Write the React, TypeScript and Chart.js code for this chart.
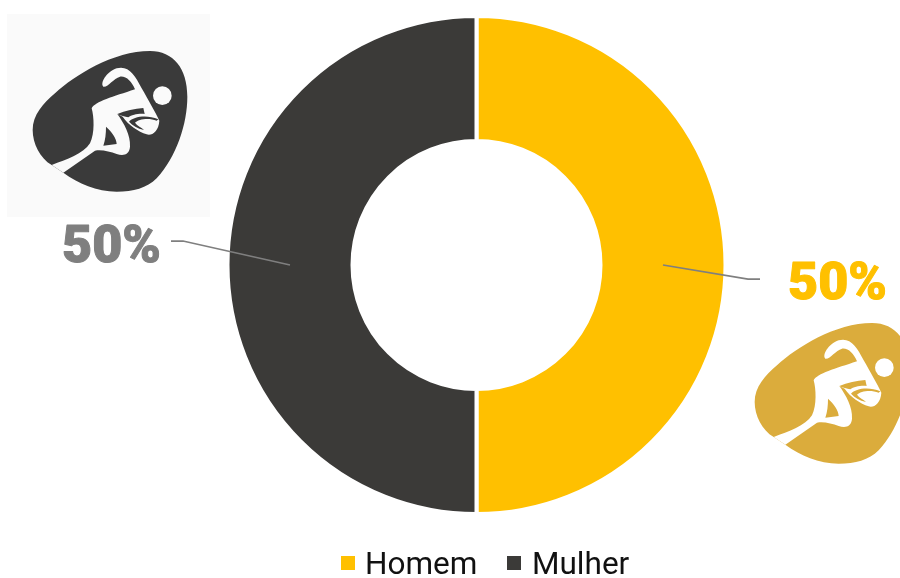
import React, { useEffect, useRef } from "react";
import { Chart, registerables } from "chart.js";

Chart.register(...registerables);

const categories = ["Homem", "Mulher"];
const shareValues = [50, 50];
const sliceColors = ["#FFC000", "#3B3A38"];
const labelColors = ["#FFC000", "#7F7F7F"];

const BLOB = "M155 495C120 475 98 430 98 390C98 345 130 310 165 280C225 225 340 153 450 153C520 153 562 205 562 290C562 370 530 470 470 535C440 565 400 575 350 575C290 575 235 550 190 518Z";
const BODY = "M155 495C200 478 250 462 270 430C285 400 282 350 275 325C285 305 340 290 405 268C395 245 380 228 360 230C340 235 325 262 310 260C300 250 318 216 350 205C385 195 405 225 425 265C445 300 465 335 478 362C476 395 455 408 440 403C415 395 385 375 368 350L352 342C372 370 392 405 390 440C388 465 370 468 350 462C330 455 305 448 285 452L190 518Z";
const TRIANGLE = "M318 380C335 395 350 415 350 432L310 437C316 420 318 400 318 380Z";
const NOTCH = "M352 342C375 332 405 326 430 324L434 342C415 340 395 345 385 352C375 350 362 347 352 342Z";
const BALL = "M387 365C400 350 440 343 475 358L470 362C445 352 415 358 405 368C412 378 425 382 432 390C412 385 398 377 387 365Z";

function drawIcon(ctx: CanvasRenderingContext2D, dx: number, dy: number, fill: string, paper: string) {
  ctx.save();
  ctx.translate(dx, dy);
  ctx.scale(1 / 3, 1 / 3);
  ctx.fillStyle = fill;
  ctx.fill(new Path2D(BLOB));
  ctx.fillStyle = paper;
  ctx.fill(new Path2D(BODY));
  ctx.beginPath();
  ctx.arc(487, 287, 28, 0, Math.PI * 2);
  ctx.fill();
  ctx.fillStyle = fill;
  ctx.fill(new Path2D(TRIANGLE));
  ctx.fill(new Path2D(NOTCH));
  ctx.fill(new Path2D(BALL));
  ctx.restore();
}

const decor = {
  id: "decor",
  beforeDraw(chart: any) {
    const ctx = chart.ctx as CanvasRenderingContext2D;
    ctx.save();
    ctx.fillStyle = "#FAFAFA";
    ctx.fillRect(7, 14, 203, 203);
    drawIcon(ctx, 0, 0, "#3A3A3A", "#FAFAFA");
    drawIcon(ctx, 722, 272, "#DBAC3C", "#FFFFFF");
    ctx.restore();
  },
  afterDraw(chart: any) {
    const ctx = chart.ctx as CanvasRenderingContext2D;
    const arcs = chart.getDatasetMeta(0).data;
    const homem = arcs[0].getCenterPoint();
    const mulher = arcs[1].getCenterPoint();
    ctx.save();
    ctx.strokeStyle = "#7F7F7F";
    ctx.lineWidth = 1.75;
    ctx.beginPath();
    ctx.moveTo(homem.x, homem.y);
    ctx.lineTo(homem.x + 85, homem.y + 14);
    ctx.lineTo(homem.x + 97, homem.y + 14);
    ctx.stroke();
    ctx.beginPath();
    ctx.moveTo(mulher.x, mulher.y);
    ctx.lineTo(mulher.x - 107, mulher.y - 24);
    ctx.lineTo(mulher.x - 119, mulher.y - 24);
    ctx.stroke();

    ctx.font = "900 52px Roboto";
    ctx.textBaseline = "alphabetic";
    ctx.textAlign = "left";
    ctx.lineWidth = 1;
    ctx.lineJoin = "round";
    ctx.fillStyle = labelColors[0];
    ctx.strokeStyle = labelColors[0];
    ctx.fillText(`${shareValues[0]}%`, 788, 299);
    ctx.strokeText(`${shareValues[0]}%`, 788, 299);
    ctx.fillStyle = labelColors[1];
    ctx.strokeStyle = labelColors[1];
    ctx.fillText(`${shareValues[1]}%`, 62, 262);
    ctx.strokeText(`${shareValues[1]}%`, 62, 262);

    ctx.font = "400 31.5px Roboto";
    const swatchX = [341, 507];
    const textX = [365, 532];
    categories.forEach((name, i) => {
      ctx.fillStyle = sliceColors[i];
      ctx.fillRect(swatchX[i], 556, 14, 14);
      ctx.fillStyle = "#111111";
      ctx.fillText(name, textX[i], 574);
    });
    ctx.restore();
  },
};

export default function App() {
  const ref = useRef<HTMLCanvasElement>(null);
  useEffect(() => {
    const chart = new Chart(ref.current!, {
      type: "doughnut",
      data: {
        labels: categories,
        datasets: [{ data: shareValues, backgroundColor: sliceColors, borderColor: "#FFFFFF", borderWidth: 4 }],
      },
      options: {
        responsive: false,
        animation: false,
        cutout: "49.8%",
        layout: { padding: { left: 53, top: 14, right: 0, bottom: 62 } },
        plugins: {
          tooltip: { enabled: false },
          legend: { display: false },
        },
      },
      plugins: [decor],
    });
    return () => chart.destroy();
  }, []);
  return (
    <div style={{ position: "fixed", left: 0, top: 0, width: 900, height: 578, background: "#fff" }}>
      <canvas ref={ref} width={900} height={578} style={{ display: "block" }} />
    </div>
  );
}
